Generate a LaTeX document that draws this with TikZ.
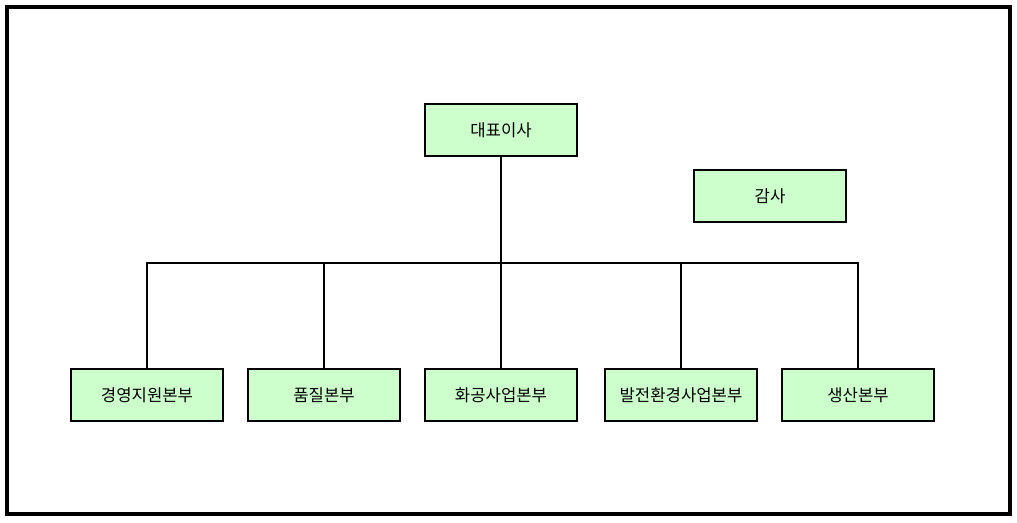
\documentclass[tikz,border=0pt]{standalone}
\usepackage{fontspec}
\newfontfamily\krfont{Noto Sans CJK KR}
\usepackage{tikz}

\begin{document}
\begin{tikzpicture}[x=0.02cm,y=-0.02cm,
  orgbox/.style={rectangle,draw=black,thick,fill=green!20,minimum width=3.04cm,minimum height=1.04cm,font=\krfont\fontsize{9.5}{11}\selectfont}]
\useasboundingbox (0,0) rectangle (1017,522);
\draw[line width=2pt] (7,7) rectangle (1010,514);

\node[orgbox] (ceo) at (501,130) {대표이사};
\node[orgbox] (audit) at (770,196) {감사};
\coordinate (bar) at (501,263);
\node[orgbox] (mgmt) at (147,395) {경영지원본부};
\node[orgbox] (qual) at (324,395) {품질본부};
\node[orgbox] (chem) at (501,395) {화공사업본부};
\node[orgbox] (power) at (681,395) {발전환경사업본부};
\node[orgbox] (prod) at (858,395) {생산본부};

\draw[semithick] (ceo.south) -- (bar);
\draw[semithick] (mgmt.north) |- (bar);
\draw[semithick] (prod.north) |- (bar);
\draw[semithick] (qual.north) -- (qual.north |- bar);
\draw[semithick] (chem.north) -- (bar);
\draw[semithick] (power.north) -- (power.north |- bar);
\end{tikzpicture}
\end{document}
